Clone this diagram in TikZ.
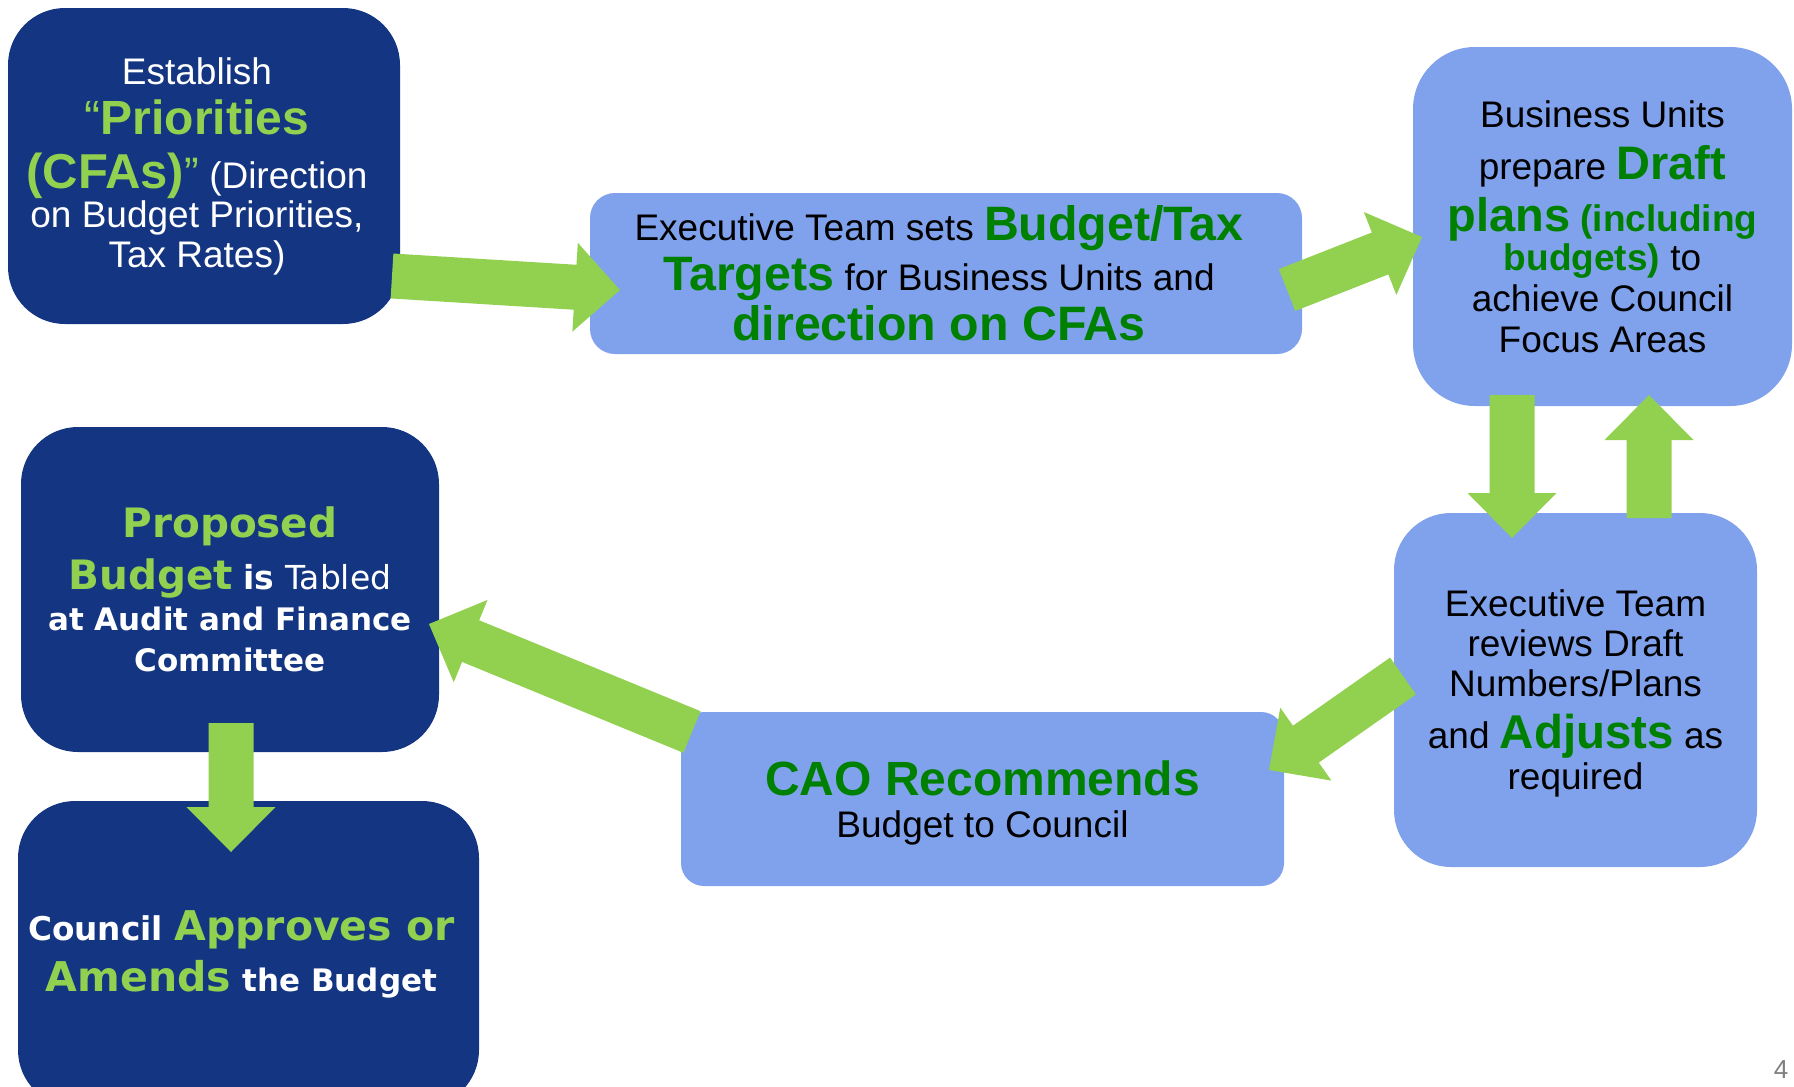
\documentclass[tikz,border=0pt]{standalone}
\usepackage{fontspec}
\setmainfont{Liberation Sans}
\newfontfamily\fA{Liberation Sans}
\newfontfamily\fV{DejaVu Sans}
\usetikzlibrary{calc}
\definecolor{darkbox}{RGB}{20,54,130}
\definecolor{lightbox}{RGB}{128,161,235}
\definecolor{arrgreen}{RGB}{146,208,80}
\definecolor{txtgreen}{RGB}{0,128,0}
\definecolor{pgnum}{RGB}{128,128,128}
\newcommand\fsz[2]{\fontsize{#1}{#2}\selectfont}
\newcommand\nols{\lineskiplimit-500pt\relax}
\newcommand\padr{\rule{14pt}{0pt}}
\newcommand\grn{\bfseries\color{txtgreen}}
\newcommand\lgrn{\bfseries\color{arrgreen}}
\newcommand\blockarrow[2]{%
  \path ($(#2)!45pt!(#1)$) coordinate (hb);
  \fill[arrgreen] ($(#1)!22.5pt!90:(#2)$) -- ($(hb)!22.5pt!90:(#2)$) --
    ($(hb)!44.5pt!90:(#2)$) -- (#2) -- ($(hb)!44.5pt!-90:(#2)$) --
    ($(hb)!22.5pt!-90:(#2)$) -- ($(#1)!22.5pt!-90:(#2)$) -- cycle;}
\tikzset{
  darkb/.style={fill=darkbox, draw=none, inner sep=0pt, align=center, text=white},
  lightb/.style={fill=lightbox, draw=none, inner sep=0pt, align=center, text=black},
}
\begin{document}
\begin{tikzpicture}[x=1pt,y=-1pt]
\useasboundingbox (0,0) rectangle (1794,1087);
\fill[white] (0,0) rectangle (1794,1087);

\node[darkb, rounded corners=57pt, minimum width=392pt, minimum height=316pt,
  font=\fA\fsz{37}{40}\nols] (b1) at (204,166)
  {Establish\padr\\[10pt]
   {\color{arrgreen}\fsz{48}{40}“\bfseries Priorities}\padr\\[14pt]
   {\lgrn\fsz{49}{40}(CFAs)}{\color{arrgreen}\fsz{44}{40}”} (Direction\padr\\[-1pt]
   on Budget Priorities,\padr\\
   Tax Rates)\padr};

\node[lightb, rounded corners=25pt, minimum width=712pt, minimum height=161pt,
  font=\fA\fsz{37}{50}\nols] (b2) at (946,273.5)
  {Executive Team sets {\grn\fsz{48.3}{50}Budget/Tax}\padr\\
   {\grn\fsz{48.3}{50}Targets} for Business Units and\padr\\
   {\grn\fsz{48.3}{50}direction on CFAs}\padr};

\node[lightb, rounded corners=62pt, minimum width=379pt, minimum height=359pt,
  font=\fA\fsz{37}{41}\nols] (b3) at (1602.5,226.5)
  {Business Units\\[11pt]
   prepare {\grn\fsz{47}{41}Draft}\\[11pt]
   {\grn\fsz{47}{41}plans} {\grn(including}\\[-2pt]
   {\grn budgets)} to\\
   achieve Council\\
   Focus Areas};

\node[lightb, rounded corners=57pt, minimum width=363pt, minimum height=354pt,
  font=\fA\fsz{37}{40}\nols] (b4) at (1575.5,690)
  {\rule{0pt}{33pt}Executive Team\\
   reviews Draft\\
   Numbers/Plans\\[12pt]
   and {\grn\fsz{47.4}{40}Adjusts} as\\[1pt]
   required};

\node[lightb, rounded corners=23pt, minimum width=603pt, minimum height=174pt,
  font=\fA\fsz{37}{42}\nols] (b5) at (982.5,799)
  {\rule{0pt}{42pt}{\grn\fsz{48}{42}CAO Recommends}\\
   Budget to Council};

\node[darkb, rounded corners=57pt, minimum width=418pt, minimum height=325pt,
  font=\fV\fsz{33}{41}\nols] (b6) at (230,589.5)
  {{\lgrn\fsz{40.5}{41}Proposed}\\[11pt]
   {\lgrn\fsz{40.5}{41}Budget} {\bfseries is} Tabled\\
   {\bfseries\fsz{31}{41}at Audit and Finance}\\
   {\bfseries\fsz{31}{41}Committee}};

\node[darkb, rounded corners=57pt, minimum width=461pt, minimum height=306pt,
  font=\fV\bfseries\fsz{32.7}{51}\nols] (b7) at (248.5,954)
  {Council {\color{arrgreen}\fsz{41}{51}Approves or}\padr\\
   {\color{arrgreen}\fsz{41}{51}Amends} {\fsz{31}{51}the Budget}\padr};

\node[text=pgnum, font=\fA\fsz{26}{26}] (pg) at (1781,1070) {4};

% arrow end points
\coordinate (aAt) at (392,276);   \coordinate (aAh) at (620,290);
\coordinate (aBt) at (1287,290);  \coordinate (aBh) at (1422,237);
\coordinate (aCt) at (1512,395);  \coordinate (aCh) at (1512,538);
\coordinate (aDt) at (1649,518);  \coordinate (aDh) at (1649,395);
\coordinate (aEt) at (1403,676);  \coordinate (aEh) at (1269,770);
\coordinate (aFt) at (692,732);   \coordinate (aFh) at (429,624);
\coordinate (aGt) at (231,723);   \coordinate (aGh) at (231,852);

\blockarrow{aAt}{aAh}
\blockarrow{aBt}{aBh}
\blockarrow{aCt}{aCh}
\blockarrow{aDt}{aDh}
\blockarrow{aEt}{aEh}
\blockarrow{aFt}{aFh}
\blockarrow{aGt}{aGh}
\end{tikzpicture}
\end{document}
